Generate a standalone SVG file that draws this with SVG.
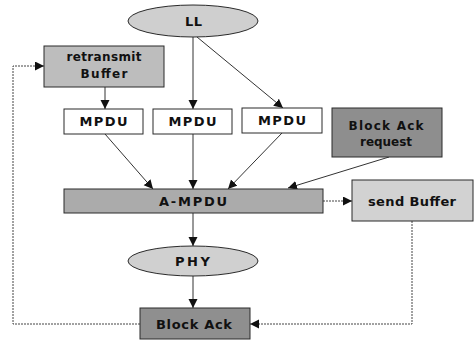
<svg xmlns="http://www.w3.org/2000/svg" width="475" height="341" viewBox="0 0 475 341">
<defs>
<marker id="ah" markerUnits="userSpaceOnUse" markerWidth="10" markerHeight="10" refX="9" refY="4.5" orient="auto">
<path d="M0,0 L9,4.5 L0,9 z" fill="#111"/>
</marker>
<style>
.box{stroke:#2a2a2a;stroke-width:1}
.t{font-family:"DejaVu Sans","Liberation Sans",Arial,sans-serif;font-weight:bold;font-size:13px;fill:#111;text-anchor:middle}
.s{font-size:12px}
.c{fill:none;stroke:#333;stroke-width:1;marker-end:url(#ah)}
.d{stroke:#444;stroke-dasharray:2 1}
</style>
</defs>
<rect width="475" height="341" fill="#fff"/>
<g id="connectors">
<line class="c" x1="193" y1="37" x2="193" y2="109"/>
<line class="c" x1="197" y1="37" x2="283" y2="108"/>
<line class="c" x1="105" y1="87" x2="105" y2="109"/>
<line class="c" x1="105" y1="134" x2="153" y2="189"/>
<line class="c" x1="193" y1="134" x2="193" y2="189"/>
<line class="c" x1="282" y1="133" x2="228" y2="189"/>
<line class="c" x1="389" y1="157" x2="288" y2="188"/>
<line class="c d" x1="323" y1="201" x2="352" y2="201"/>
<line class="c" x1="193" y1="213" x2="193" y2="246"/>
<line class="c" x1="193" y1="276" x2="193" y2="308"/>
<polyline class="c d" points="412,221 412,324 250,324"/>
<polyline class="c d" points="140,324 13,324 13,66 44,66"/>
</g>
<g id="LL">
<ellipse class="box" cx="193" cy="21" rx="65" ry="16" fill="#cfcfcf"/>
<text class="t" x="193.5" y="26" textLength="17" lengthAdjust="spacing">LL</text>
</g>
<g id="retransmit">
<rect class="box" x="44" y="46" width="120" height="41" fill="#bdbdbd"/>
<text class="t s" x="104" y="61" textLength="75" lengthAdjust="spacing">retransmit</text>
<text class="t s" x="104" y="78" textLength="47" lengthAdjust="spacing">Buffer</text>
</g>
<g id="mpdu1">
<rect class="box" x="64" y="109" width="79" height="25" fill="#fff"/>
<text class="t" x="103.5" y="126" textLength="48" lengthAdjust="spacing">MPDU</text>
</g>
<g id="mpdu2">
<rect class="box" x="153" y="109" width="79" height="25" fill="#fff"/>
<text class="t" x="192.5" y="126" textLength="48" lengthAdjust="spacing">MPDU</text>
</g>
<g id="mpdu3">
<rect class="box" x="242" y="108" width="80" height="25" fill="#fff"/>
<text class="t" x="282" y="125" textLength="48" lengthAdjust="spacing">MPDU</text>
</g>
<g id="bar">
<rect class="box" x="332" y="108" width="110" height="49" fill="#8e8e8e"/>
<text class="t s" x="386" y="130" textLength="75" lengthAdjust="spacing">Block Ack</text>
<text class="t s" x="386" y="146" textLength="52" lengthAdjust="spacing">request</text>
</g>
<g id="ampdu">
<rect class="box" x="64" y="189" width="259" height="24" fill="#ababab"/>
<text class="t" x="193" y="206" textLength="68" lengthAdjust="spacing">A-MPDU</text>
</g>
<g id="sendbuffer">
<rect class="box" x="352" y="180" width="121" height="41" fill="#d2d2d2"/>
<text class="t" x="412" y="206" textLength="88" lengthAdjust="spacing">send Buffer</text>
</g>
<g id="PHY">
<ellipse class="box" cx="193" cy="261" rx="65" ry="15" fill="#d0d0d0"/>
<text class="t" x="192.5" y="266" textLength="35" lengthAdjust="spacing">PHY</text>
</g>
<g id="blockack">
<rect class="box" x="140" y="308" width="110" height="31" fill="#8f8f8f"/>
<text class="t" x="194" y="329" textLength="76" lengthAdjust="spacing">Block Ack</text>
</g>
</svg>
